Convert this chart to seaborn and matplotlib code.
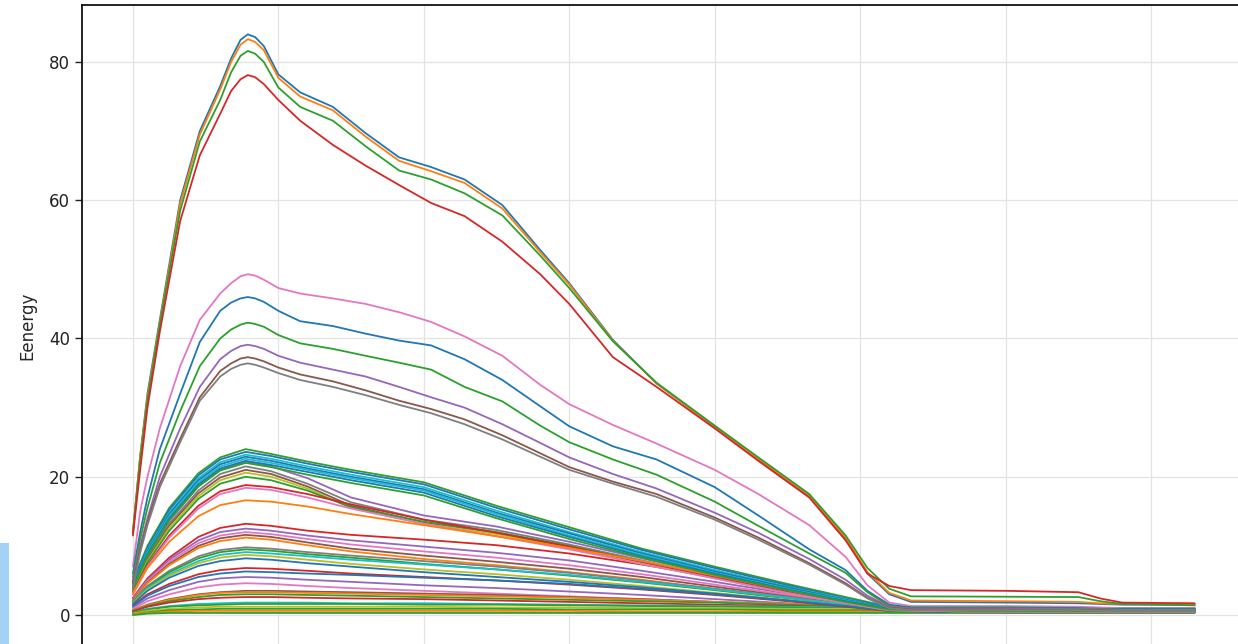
import matplotlib
matplotlib.use("Agg")
import matplotlib.pyplot as plt
from matplotlib.patches import Rectangle
import pandas as pd
import seaborn as sns

# ---------------- data ----------------
y_label = "Eenergy"
y_ticks = [0, 20, 40, 60, 80]
x_ticks = [0, 20, 40, 60, 80, 100, 120, 140]

# high-energy curves (finely sampled)
x_top = [0, 1, 2, 3.7, 6.5, 9.2, 12, 13.5, 14.8, 15.8, 16.8, 18, 20, 23, 27.5, 32, 36.6, 41,
         45.6, 50.8, 56, 60, 66, 72, 80, 86, 93, 98, 101, 104, 107, 120, 130, 133, 136, 146]

top_lines = [
    [12, 23, 32, 42.7, 60, 70, 76.5, 80.5, 83.2, 84, 83.6, 82.3, 78.2, 75.6, 73.5, 69.7, 66.2, 64.8,
     63, 59.3, 52.8, 48, 39.8, 33.5, 27.2, 22.5, 17.2, 11, 6, 3, 1.9, 1.8, 1.7, 1.6, 1.5, 1.5],
    [12, 23, 31.5, 42.3, 59.5, 69.5, 76, 80, 82.5, 83.3, 82.9, 81.7, 77.7, 75, 73, 69.2, 65.7, 64.2,
     62.5, 58.8, 52.5, 47.8, 39.7, 33.5, 27.2, 22.6, 17.3, 11.2, 6.2, 3.2, 2.1, 2.0, 1.9, 1.7, 1.6, 1.5],
    [11.8, 22.5, 31, 42, 58.5, 68.5, 74.5, 78.5, 80.9, 81.6, 81.2, 80, 76.3, 73.5, 71.5, 67.8, 64.3, 63,
     61, 57.8, 52, 47.3, 39.6, 33.6, 27.4, 22.8, 17.5, 11.5, 6.8, 3.8, 2.7, 2.65, 2.6, 2.0, 1.6, 1.4],
    [11.5, 21, 30, 41, 57, 66.5, 72.5, 75.8, 77.5, 78.1, 77.8, 76.8, 74.5, 71.5, 68, 65, 62.2, 59.6,
     57.7, 54, 49.3, 45, 37.3, 33, 27, 22.3, 17, 10.8, 6, 4.2, 3.6, 3.5, 3.3, 2.4, 1.8, 1.7],
]

mid_lines = [
    [7, 15, 20, 27, 36, 42.7, 46.5, 48, 49, 49.3, 49.1, 48.5, 47.3, 46.5, 45.8, 45, 43.8, 42.4,
     40.3, 37.5, 33.3, 30.5, 27.5, 24.8, 21, 17.5, 13, 8.4, 4.3, 1.8, 1.3, 1.3, 1.2, 1.1, 1.0, 1.0],
    [6, 12, 17, 24, 32, 39.5, 44, 45.2, 45.8, 46, 45.8, 45.3, 44, 42.5, 41.8, 40.7, 39.7, 39,
     37, 34, 30.2, 27.3, 24.4, 22.5, 18.5, 14.4, 9.5, 6.5, 3.5, 1.5, 1.1, 1.1, 1.0, 0.9, 0.9, 0.9],
    [5.5, 11, 15.5, 22, 29.5, 36, 40, 41.3, 42, 42.3, 42.1, 41.7, 40.5, 39.3, 38.5, 37.5, 36.5, 35.5,
     33, 30.9, 27.4, 25, 22.5, 20.3, 16.4, 12.9, 8.9, 6.1, 3.3, 1.3, 1.0, 1.0, 0.9, 0.9, 0.8, 0.8],
    [5, 10, 14, 20, 27, 33, 37, 38.2, 38.9, 39.1, 38.9, 38.5, 37.5, 36.5, 35.5, 34.5, 33, 31.5,
     30, 27.6, 24.9, 22.8, 20.4, 18.3, 14.8, 11.9, 8.1, 5.1, 2.8, 1.2, 0.9, 0.9, 0.8, 0.8, 0.7, 0.7],
    [4.5, 9.5, 13.5, 19, 25.5, 31.5, 35.3, 36.4, 37.1, 37.3, 37.1, 36.7, 35.8, 34.8, 33.8, 32.5, 31, 29.8,
     28.3, 26, 23.4, 21.4, 19.3, 17.5, 14.1, 11.2, 7.5, 4.6, 2.5, 1.1, 0.8, 0.8, 0.7, 0.7, 0.6, 0.6],
    [4, 9, 13, 18.5, 25, 31, 34.5, 35.6, 36.2, 36.4, 36.2, 35.8, 35, 34, 33, 31.8, 30.4, 29.2,
     27.6, 25.4, 22.9, 21, 19, 17.1, 13.8, 10.9, 7.3, 4.4, 2.4, 1.0, 0.7, 0.7, 0.7, 0.6, 0.6, 0.6],
]

# low-energy curves (coarser sampling)
x_low = [0, 2, 5, 9, 12, 15.5, 19, 24, 30, 40, 50, 60, 70, 80, 90, 98, 104, 115, 130, 146]

low_slow = [
    [5.0, 10.0, 15.5, 20.5, 22.8, 24.0, 23.3, 22.2, 21.0, 19.2, 15.8, 12.7, 9.6, 7.0, 4.5, 2.6, 1.2, 0.9, 0.9, 0.9],
    [4.8, 9.7, 15.2, 20.2, 22.5, 23.6, 23.0, 21.9, 20.7, 18.9, 15.5, 12.4, 9.4, 6.8, 4.3, 2.4, 1.1, 0.8, 0.8, 0.8],
    [4.5, 9.4, 14.8, 19.8, 22.1, 23.2, 22.6, 21.5, 20.3, 18.5, 15.1, 12.0, 9.1, 6.5, 4.1, 2.3, 1.0, 0.8, 0.8, 0.8],
    [4.6, 9.2, 14.6, 19.5, 21.8, 22.9, 22.3, 21.2, 20.0, 18.2, 14.8, 11.8, 8.9, 6.3, 4.0, 2.2, 1.0, 0.7, 0.7, 0.7],
    [4.3, 9.0, 14.3, 19.2, 21.5, 22.6, 22.0, 21.0, 19.8, 18.0, 14.6, 11.5, 8.7, 6.1, 3.8, 2.1, 0.9, 0.7, 0.7, 0.7],
    [4.2, 8.8, 14.0, 18.9, 21.2, 22.3, 21.7, 20.7, 19.5, 17.7, 14.3, 11.3, 8.5, 6.0, 3.7, 2.0, 0.9, 0.7, 0.7, 0.7],
    [4.0, 8.6, 13.8, 18.6, 20.9, 22.0, 21.4, 20.3, 19.1, 17.3, 14.0, 11.0, 8.3, 5.8, 3.6, 1.9, 0.8, 0.6, 0.6, 0.6],
]

low_fast = [
    [4.0, 8.5, 13.6, 18.6, 21.0, 22.2, 21.5, 19.8, 17.0, 14.4, 12.8, 10.6, 8.2, 5.9, 3.6, 1.9, 0.8, 0.6, 0.6, 0.6],
    [3.8, 8.2, 13.2, 18.0, 20.4, 21.5, 20.8, 19.0, 16.3, 13.8, 12.3, 10.2, 7.9, 5.6, 3.4, 1.8, 0.8, 0.6, 0.6, 0.6],
    [3.7, 8.0, 12.9, 17.6, 19.9, 21.0, 20.4, 18.6, 15.8, 13.4, 11.9, 9.9, 7.6, 5.4, 3.3, 1.7, 0.7, 0.5, 0.5, 0.5],
    [3.6, 7.8, 12.6, 17.2, 19.5, 20.6, 20.0, 18.3, 15.5, 13.2, 11.7, 9.7, 7.4, 5.3, 3.2, 1.7, 0.7, 0.5, 0.5, 0.5],
    [3.5, 7.6, 12.2, 16.8, 19.0, 20.0, 19.5, 18.0, 15.6, 13.5, 12.0, 10.0, 7.7, 5.5, 3.3, 1.7, 0.7, 0.5, 0.5, 0.5],
    [3.3, 7.2, 11.5, 15.8, 17.9, 18.8, 18.5, 17.5, 16.0, 13.8, 11.9, 9.9, 7.7, 5.5, 3.4, 1.8, 0.8, 0.6, 0.6, 0.6],
    [3.2, 7.0, 11.2, 15.4, 17.5, 18.4, 18.1, 17.0, 15.4, 13.2, 11.4, 9.5, 7.4, 5.3, 3.2, 1.7, 0.7, 0.5, 0.5, 0.5],
    [3.0, 6.8, 10.6, 14.3, 15.9, 16.6, 16.4, 15.7, 14.6, 13.0, 11.4, 9.7, 7.8, 5.7, 3.6, 1.9, 0.8, 0.6, 0.6, 0.6],
]

low_mid = [
    [2.5, 5.3, 8.3, 11.3, 12.6, 13.2, 12.9, 12.2, 11.6, 10.9, 10.1, 8.9, 7.3, 5.5, 3.6, 2.0, 0.9, 0.6, 0.6, 0.6],
    [2.4, 5.1, 8.0, 10.8, 12.0, 12.5, 12.2, 11.5, 10.8, 9.9, 9.0, 7.9, 6.4, 4.8, 3.1, 1.7, 0.8, 0.5, 0.5, 0.5],
    [2.3, 4.9, 7.7, 10.4, 11.5, 12.0, 11.7, 11.0, 10.2, 9.2, 8.3, 7.2, 5.9, 4.4, 2.9, 1.6, 0.7, 0.5, 0.5, 0.5],
    [2.2, 4.7, 7.4, 10.0, 11.1, 11.6, 11.3, 10.5, 9.6, 8.6, 7.7, 6.7, 5.5, 4.1, 2.7, 1.5, 0.7, 0.5, 0.5, 0.5],
    [2.1, 4.6, 7.2, 9.7, 10.7, 11.2, 10.9, 10.1, 9.2, 8.1, 7.2, 6.2, 5.1, 3.8, 2.5, 1.4, 0.6, 0.4, 0.4, 0.4],
    [2.0, 4.2, 6.4, 8.5, 9.4, 9.8, 9.6, 9.1, 8.6, 7.8, 7.0, 6.1, 5.0, 3.8, 2.6, 1.5, 0.7, 0.5, 0.5, 0.5],
    [1.9, 4.0, 6.2, 8.2, 9.1, 9.5, 9.3, 8.8, 8.3, 7.4, 6.6, 5.7, 4.7, 3.6, 2.4, 1.4, 0.6, 0.4, 0.4, 0.4],
    [1.8, 3.9, 5.9, 7.8, 8.7, 9.1, 8.9, 8.5, 8.0, 7.3, 6.6, 5.8, 4.8, 3.7, 2.5, 1.5, 0.7, 0.5, 0.5, 0.5],
    [1.7, 3.7, 5.7, 7.5, 8.3, 8.7, 8.5, 8.0, 7.4, 6.6, 5.9, 5.1, 4.2, 3.2, 2.2, 1.3, 0.6, 0.4, 0.4, 0.4],
    [1.6, 3.5, 5.4, 7.1, 7.8, 8.2, 8.0, 7.5, 7.0, 6.2, 5.5, 4.8, 4.0, 3.1, 2.1, 1.3, 0.6, 0.4, 0.4, 0.4],
    [1.4, 3.0, 4.5, 5.9, 6.5, 6.8, 6.7, 6.4, 6.0, 5.5, 5.0, 4.4, 3.7, 2.9, 2.0, 1.2, 0.6, 0.4, 0.4, 0.4],
    [1.3, 2.8, 4.2, 5.5, 6.0, 6.3, 6.2, 6.0, 5.8, 5.4, 5.0, 4.5, 3.8, 3.0, 2.1, 1.3, 0.6, 0.4, 0.4, 0.4],
]

low_flat = [
    [1.1, 2.4, 3.6, 4.8, 5.3, 5.5, 5.4, 5.1, 4.8, 4.3, 3.9, 3.4, 2.9, 2.3, 1.7, 1.1, 0.5, 0.4, 0.4, 0.4],
    [0.9, 2.0, 3.0, 4.0, 4.4, 4.6, 4.5, 4.2, 3.9, 3.5, 3.1, 2.7, 2.3, 1.9, 1.4, 1.0, 0.5, 0.4, 0.4, 0.4],
    [0.7, 1.5, 2.3, 3.0, 3.3, 3.5, 3.5, 3.4, 3.3, 3.1, 2.9, 2.6, 2.3, 1.9, 1.5, 1.1, 0.7, 0.6, 0.6, 0.6],
    [0.7, 1.4, 2.2, 2.9, 3.2, 3.3, 3.3, 3.2, 3.1, 2.9, 2.7, 2.5, 2.2, 1.9, 1.6, 1.2, 0.9, 0.8, 0.8, 0.8],
    [0.6, 1.3, 2.0, 2.6, 2.9, 3.0, 3.0, 2.9, 2.8, 2.6, 2.4, 2.2, 2.0, 1.8, 1.5, 1.2, 1.0, 1.0, 1.0, 1.0],
    [0.5, 1.2, 1.8, 2.3, 2.5, 2.6, 2.6, 2.5, 2.4, 2.3, 2.1, 1.9, 1.7, 1.5, 1.3, 1.1, 0.9, 0.9, 0.9, 0.9],
    [0.3, 0.9, 1.3, 1.6, 1.7, 1.8, 1.8, 1.8, 1.7, 1.7, 1.6, 1.5, 1.4, 1.3, 1.2, 1.1, 1.0, 1.0, 1.0, 1.0],
    [0.3, 0.8, 1.2, 1.4, 1.5, 1.6, 1.6, 1.6, 1.6, 1.5, 1.5, 1.4, 1.3, 1.2, 1.1, 1.0, 0.9, 0.9, 0.9, 0.9],
    [0.2, 0.6, 0.9, 1.1, 1.2, 1.2, 1.2, 1.2, 1.2, 1.2, 1.1, 1.1, 1.0, 1.0, 0.9, 0.9, 0.8, 0.8, 0.8, 0.8],
    [0.1, 0.4, 0.7, 0.8, 0.9, 0.9, 0.9, 0.9, 0.9, 0.9, 0.9, 0.8, 0.8, 0.8, 0.7, 0.7, 0.7, 0.7, 0.7, 0.7],
    [0.1, 0.3, 0.5, 0.6, 0.6, 0.6, 0.6, 0.6, 0.6, 0.6, 0.6, 0.6, 0.5, 0.5, 0.5, 0.5, 0.5, 0.5, 0.5, 0.5],
    [0.0, 0.2, 0.3, 0.3, 0.3, 0.3, 0.3, 0.3, 0.3, 0.3, 0.3, 0.3, 0.3, 0.3, 0.3, 0.3, 0.3, 0.3, 0.3, 0.3],
]

# ---------------- styling (tab10 colour index per curve) ----------------
top_cidx = [0, 1, 2, 3]
mid_cidx = [6, 0, 2, 4, 5, 7]
slow_cidx = [2, 0, 9, 0, 9, 0, 2]
fast_cidx = [4, 7, 5, 8, 2, 3, 6, 1]
lowmid_cidx = [3, 4, 6, 5, 1, 7, 2, 9, 8, 0, 3, 0]
flat_cidx = [4, 6, 5, 1, 2, 3, 9, 2, 8, 2, 1, 2]

tab10 = sns.color_palette("tab10")

rows = []
palette = {}
groups = [
    ("flat", x_low, low_flat, flat_cidx),
    ("lowmid", x_low, low_mid, lowmid_cidx),
    ("fast", x_low, low_fast, fast_cidx),
    ("slow", x_low, low_slow, slow_cidx),
    ("mid", x_top, mid_lines, mid_cidx),
    ("top", x_top, top_lines, top_cidx),
]
for name, xs, lines, cidx in groups:
    for i, ys in enumerate(lines):
        key = f"{name}_{i}"
        palette[key] = tab10[cidx[i] % 10]
        for xv, yv in zip(xs, ys):
            rows.append({"t": xv, "energy": yv, "curve": key})
df = pd.DataFrame(rows)

# ---------------- figure ----------------
sns.set_theme(style="ticks")
plt.rcParams["font.family"] = ["DejaVu Sans"]

W, H = 1238, 644
fig = plt.figure(figsize=(W / 100, H / 100), dpi=100)
ax = fig.add_axes([82 / W, -2 / H, (1250 - 82) / W, 641 / H])

sns.lineplot(data=df, x="t", y="energy", hue="curve", palette=palette,
             estimator=None, sort=False, legend=False, linewidth=1.3, ax=ax)
for ln in ax.get_lines():
    ln.set_solid_joinstyle("round")
    ln.set_solid_capstyle("round")

ax.set_xlim(-7.0, 153.6)
ax.set_ylim(-4.48, 88.24)
ax.set_xticks(x_ticks)
ax.set_xticklabels([])
ax.set_yticks(y_ticks)
ax.tick_params(axis="y", labelsize=12, length=5, width=1, colors="#222222")
ax.tick_params(axis="x", length=0)
ax.grid(True, color="#e3e3e3", linewidth=0.9)
ax.set_axisbelow(True)
for sp in ax.spines.values():
    sp.set_color("#111111")
    sp.set_linewidth(1.3)
ax.set_xlabel("")
ax.set_ylabel(y_label, fontsize=12, labelpad=9)

fig.add_artist(Rectangle((0, 0), 9 / W, 101 / H, transform=fig.transFigure,
                         facecolor="#a3d2f6", edgecolor="none"))

fig.savefig("out.png", dpi=100)
